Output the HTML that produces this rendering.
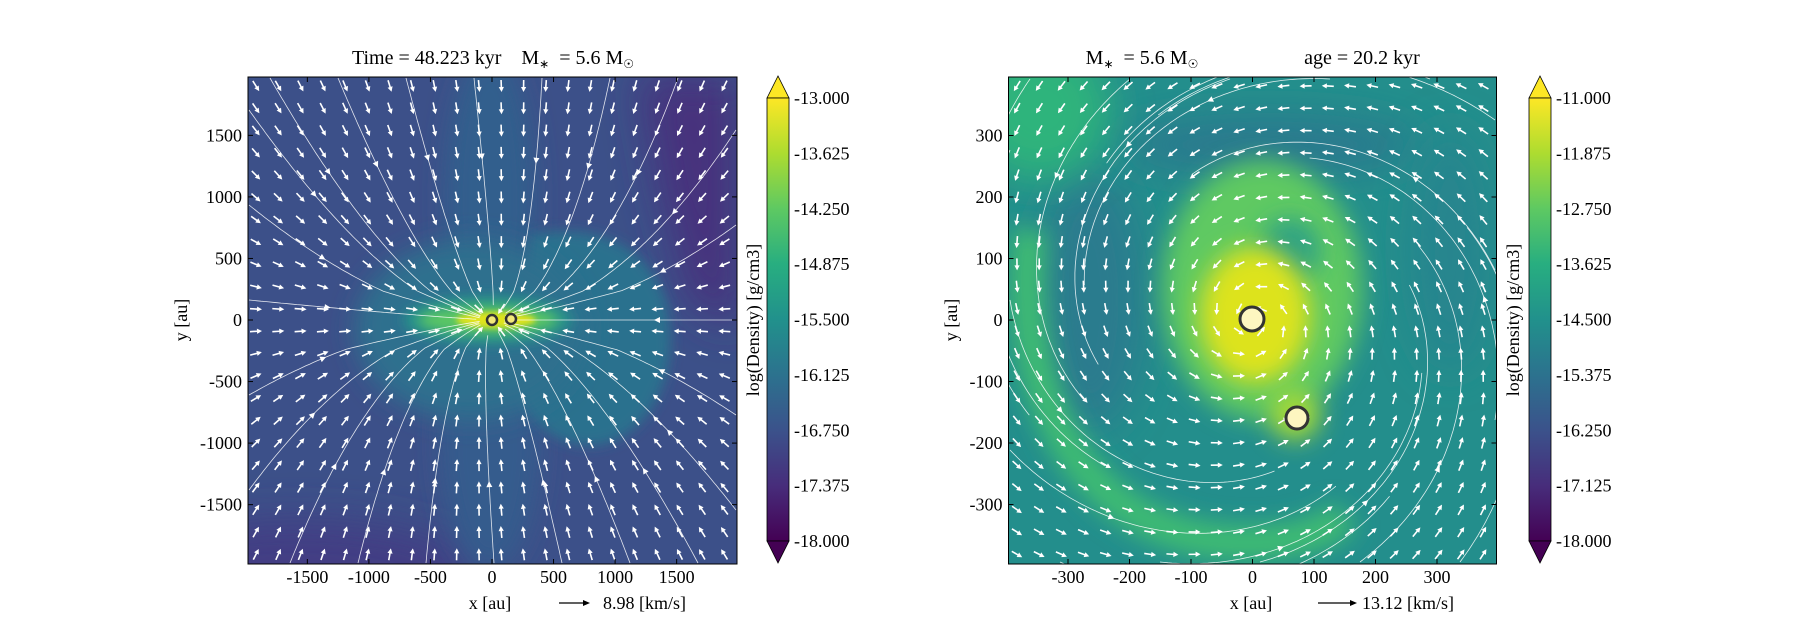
<!DOCTYPE html>
<html><head><meta charset="utf-8"><style>
html,body{margin:0;padding:0;background:#fff;}
svg{display:block;font-family:"Liberation Serif",serif;}
text{white-space:pre;}
</style></head><body>
<svg id="s" width="1800" height="630" xmlns="http://www.w3.org/2000/svg">
<defs>
<linearGradient id="vir" x1="0" y1="1" x2="0" y2="0">
<stop offset="0" stop-color="#440154"/><stop offset="0.125" stop-color="#472d7b"/><stop offset="0.25" stop-color="#3b528b"/><stop offset="0.375" stop-color="#2c728e"/><stop offset="0.5" stop-color="#21918c"/><stop offset="0.625" stop-color="#28ae80"/><stop offset="0.75" stop-color="#5ec962"/><stop offset="0.875" stop-color="#addc30"/><stop offset="1" stop-color="#fde725"/>
</linearGradient>
<clipPath id="cL"><rect x="248" y="77" width="489" height="487"/></clipPath>
<clipPath id="cR"><rect x="1008.5" y="77" width="488" height="487"/></clipPath>
<filter id="b40" x="-50%" y="-50%" width="200%" height="200%"><feGaussianBlur stdDeviation="40"/></filter>
<filter id="b20" x="-50%" y="-50%" width="200%" height="200%"><feGaussianBlur stdDeviation="20"/></filter>
<filter id="b12" x="-50%" y="-50%" width="200%" height="200%"><feGaussianBlur stdDeviation="12"/></filter>
<filter id="b6" x="-50%" y="-50%" width="200%" height="200%"><feGaussianBlur stdDeviation="6"/></filter>
<filter id="b3" x="-50%" y="-50%" width="200%" height="200%"><feGaussianBlur stdDeviation="3"/></filter>
</defs>

<!-- LEFT HEATMAP -->
<g clip-path="url(#cL)">
<rect x="248" y="77" width="489" height="487" fill="#3c5089"/>
<path d="M640,77 L737,77 L737,330 L690,300 L660,190 Z" fill="#46307d" filter="url(#b20)"/>
<ellipse cx="300" cy="570" rx="170" ry="50" fill="#423e84" filter="url(#b20)"/>
<ellipse cx="490" cy="200" rx="45" ry="150" fill="#335f8d" filter="url(#b12)"/>
<ellipse cx="490" cy="440" rx="50" ry="130" fill="#355c8d" filter="url(#b12)"/>
<path d="M530,235 C600,220 655,250 668,310 C680,375 650,435 600,445 C560,450 530,425 515,385 Z" fill="#2c718e" filter="url(#b6)"/>
<ellipse cx="470" cy="330" rx="115" ry="90" fill="#2d6f8e" filter="url(#b12)"/>
<ellipse cx="488" cy="320" rx="85" ry="24" fill="#27928b" filter="url(#b6)"/>
<ellipse cx="488" cy="320" rx="70" ry="14" fill="#5cc863" filter="url(#b6)"/>
<ellipse cx="496" cy="320" rx="40" ry="8" fill="#e0e31b" filter="url(#b3)"/>
<g id="arrL"></g>
</g>
<rect x="248" y="77" width="489" height="487" fill="none" stroke="#000" stroke-width="1"/>

<!-- RIGHT HEATMAP -->
<g clip-path="url(#cR)">
<rect x="1008" y="77" width="489" height="487" fill="#238e8c"/>
<ellipse cx="1090" cy="300" rx="55" ry="130" fill="#2a7b8e" filter="url(#b20)"/>
<ellipse cx="1270" cy="145" rx="150" ry="28" fill="#2a788e" filter="url(#b20)"/>
<ellipse cx="1450" cy="250" rx="40" ry="120" fill="#26858e" filter="url(#b20)"/>
<ellipse cx="1040" cy="110" rx="70" ry="70" fill="#2fb47c" filter="url(#b20)"/>
<path d="M1030,230 C1010,420 1100,535 1230,542 C1300,546 1330,530 1345,515" fill="none" stroke="#40bd72" stroke-width="34" filter="url(#b12)"/>
<ellipse cx="1262" cy="290" rx="100" ry="130" fill="#5ec962" filter="url(#b12)"/>
<ellipse cx="1290" cy="250" rx="30" ry="32" fill="#2fa284" filter="url(#b12)"/>
<ellipse cx="1255" cy="315" rx="55" ry="68" fill="#dde31c" filter="url(#b12)"/>
<ellipse cx="1295" cy="415" rx="25" ry="25" fill="#a8db34" filter="url(#b12)"/>
<g id="arrR"></g>
</g>
<rect x="1008.5" y="77" width="488" height="487" fill="none" stroke="#000" stroke-width="1"/>

<!-- stars -->
<circle cx="492" cy="320" r="5" fill="#f3e87a" stroke="#333" stroke-width="2.5"/>
<circle cx="511" cy="319" r="5" fill="#f3e87a" stroke="#333" stroke-width="2.5"/>
<circle cx="1252" cy="319" r="12" fill="#fdf6c0" stroke="#333" stroke-width="3"/>
<circle cx="1297" cy="418" r="11" fill="#fdf6c0" stroke="#333" stroke-width="3"/>

<g id="ticks" stroke="#000" stroke-width="1"></g>
<g id="labels" font-size="18" fill="#000"></g>

<!-- colorbars -->
<path d="M767,98 L778,76 L789,98 Z" fill="#fde725" stroke="#000" stroke-width="0.8"/>
<rect x="767" y="98" width="22" height="443" fill="url(#vir)" stroke="#000" stroke-width="0.8"/>
<path d="M767,541 L778,563 L789,541 Z" fill="#440154" stroke="#000" stroke-width="0.8"/>
<path d="M1529,98 L1540,76 L1551,98 Z" fill="#fde725" stroke="#000" stroke-width="0.8"/>
<rect x="1529" y="98" width="22" height="443" fill="url(#vir)" stroke="#000" stroke-width="0.8"/>
<path d="M1529,541 L1540,563 L1551,541 Z" fill="#440154" stroke="#000" stroke-width="0.8"/>

<!-- titles -->
<text x="493" y="64" font-size="20" text-anchor="middle">Time = 48.223 kyr&#160;&#160;&#160;&#160;M<tspan font-size="12" dy="4">∗</tspan><tspan dy="-4">&#160;&#160;= 5.6 M</tspan><tspan font-size="12" dy="4">☉</tspan></text>
<text x="1142" y="64" font-size="20" text-anchor="middle">M<tspan font-size="12" dy="4">∗</tspan><tspan dy="-4">&#160;&#160;= 5.6 M</tspan><tspan font-size="12" dy="4">☉</tspan></text>
<text x="1362" y="64" font-size="20" text-anchor="middle">age = 20.2 kyr</text>

<text x="490" y="609" font-size="18" text-anchor="middle">x [au]</text>
<line x1="559" y1="603" x2="586" y2="603" stroke="#000" stroke-width="1.3"/><path d="M590,603 L583,600 L583,606 Z"/>
<text x="603" y="609" font-size="18">8.98 [km/s]</text>
<text x="1251" y="609" font-size="18" text-anchor="middle">x [au]</text>
<line x1="1318" y1="603" x2="1353" y2="603" stroke="#000" stroke-width="1.3"/><path d="M1357,603 L1350,600 L1350,606 Z"/>
<text x="1362" y="609" font-size="18">13.12 [km/s]</text>

<text transform="translate(187,320) rotate(-90)" font-size="18" text-anchor="middle">y [au]</text>
<text transform="translate(957,320) rotate(-90)" font-size="18" text-anchor="middle">y [au]</text>
<text transform="translate(759,320) rotate(-90)" font-size="18" text-anchor="middle">log(Density) [g/cm3]</text>
<text transform="translate(1519,320) rotate(-90)" font-size="18" text-anchor="middle">log(Density) [g/cm3]</text>
</svg>
<script>
var NS="http://www.w3.org/2000/svg";
function el(p,t,a,txt){var e=document.createElementNS(NS,t);for(var k in a)e.setAttribute(k,a[k]);if(txt!==undefined)e.textContent=txt;p.appendChild(e);return e;}
var T=document.getElementById('ticks'),L=document.getElementById('labels');
function axes(x0,x1,y0,y1,cx,cy,s,vals){
  vals.forEach(function(v){
    var px=cx+v*s, py=cy-v*s;
    el(T,'line',{x1:px,y1:y1,x2:px,y2:y1-5});el(T,'line',{x1:px,y1:y0,x2:px,y2:y0+5});
    el(T,'line',{x1:x0,y1:py,x2:x0+5,y2:py});el(T,'line',{x1:x1,y1:py,x2:x1-5,y2:py});
    el(L,'text',{x:px,y:583,'text-anchor':'middle'},String(v));
    el(L,'text',{x:x0-6,y:py+6,'text-anchor':'end'},String(v));
  });
}
axes(248,737,77,564,492,320,0.1231,[-1500,-1000,-500,0,500,1000,1500]);
axes(1008.5,1496.5,77,564,1252.5,320,0.615,[-300,-200,-100,0,100,200,300]);
function cbar(x,labs){labs.forEach(function(l,i){var y=98+i*443/8;
  el(T,'line',{x1:x+22,y1:y,x2:x+17,y2:y});el(T,'line',{x1:x,y1:y,x2:x+5,y2:y});
  el(L,'text',{x:x+27,y:y+6},l);});}
cbar(767,['-13.000','-13.625','-14.250','-14.875','-15.500','-16.125','-16.750','-17.375','-18.000']);
cbar(1529,['-11.000','-11.875','-12.750','-13.625','-14.500','-15.375','-16.250','-17.125','-18.000']);

function arrow(g,x,y,dx,dy,len){
  var n=Math.hypot(dx,dy)||1;dx/=n;dy/=n;
  var x2=x+dx*len/2,y2=y+dy*len/2,x1=x-dx*len/2,y1=y-dy*len/2;
  el(g,'line',{x1:x1,y1:y1,x2:x2-dx*3,y2:y2-dy*3,stroke:'#fff','stroke-width':1.6});
  var px=-dy,py=dx;
  el(g,'path',{d:'M'+x2+','+y2+' L'+(x2-dx*5+px*2.6)+','+(y2-dy*5+py*2.6)+' L'+(x2-dx*5-px*2.6)+','+(y2-dy*5-py*2.6)+'Z',fill:'#fff'});
}
function streams(g,field,seeds,cx,cy,steps,h){
  seeds.forEach(function(sd){
    var x=sd[0],y=sd[1],d='M'+x+','+y,pts=[[x,y]];
    for(var i=0;i<steps;i++){var v=field(x,y);var n=Math.hypot(v[0],v[1])||1;x+=v[0]/n*h;y+=v[1]/n*h;
      if(Math.hypot(x-cx,y-cy)<12)break;d+=' L'+x.toFixed(1)+','+y.toFixed(1);pts.push([x,y]);}
    el(g,'path',{d:d,fill:'none',stroke:'#fff','stroke-width':0.8,opacity:0.85});
    var m=Math.floor(pts.length/3);if(m>1){var a=pts[m],b=pts[m+1];var dx=b[0]-a[0],dy=b[1]-a[1],n=Math.hypot(dx,dy)||1;dx/=n;dy/=n;
      el(g,'path',{d:'M'+(a[0]+dx*6)+','+(a[1]+dy*6)+' L'+(a[0]-dy*3)+','+(a[1]+dx*3)+' L'+(a[0]+dy*3)+','+(a[1]-dx*3)+'Z',fill:'#fff'});}
  });
}
// LEFT
var gL=document.getElementById('arrL');
function fL(x,y){var dx=492-x,dy=320-y;var ax=dx*0.9,ay=dy*1.6;if(Math.abs(dy)<30)ax*=1.5;return [ax+dy*0.1,ay];}
var seedsL=[];
for(var i=0;i<7;i++){seedsL.push([270+i*68,78]);seedsL.push([290+i*68,563]);}
for(var j=0;j<5;j++){seedsL.push([249,110+j*95]);seedsL.push([736,130+j*95]);}
streams(gL,fL,seedsL,492,320,90,4);
for(var i=0;i<22;i++)for(var j=0;j<22;j++){var x=256+i*22.3,y=86+j*22.3;var v=fL(x,y);arrow(gL,x,y,v[0],v[1],12);}
// RIGHT
var gR=document.getElementById('arrR');
function fR(x,y){var dx=x-1252.5,dy=y-320;return [dy*1.0-dx*0.25,-dx*0.95-dy*0.25];}
var seedsR=[];
for(var k=0;k<5;k++){seedsR.push([1030+k*100,79]);seedsR.push([1060+k*100,562]);}
for(var k=0;k<3;k++){seedsR.push([1010,150+k*150]);seedsR.push([1495,120+k*150]);}
streams(gR,fR,seedsR,1252.5,320,90,4);
for(var i=0;i<22;i++)for(var j=0;j<22;j++){var x=1017+i*22.2,y=86+j*22.3;var v=fR(x,y);arrow(gR,x,y,v[0],v[1],12);}
</script>
</body></html>
